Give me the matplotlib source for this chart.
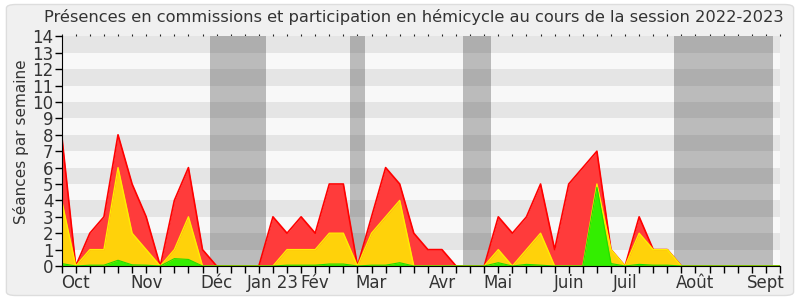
import matplotlib
matplotlib.use("Agg")
import matplotlib.pyplot as plt
from matplotlib.patches import FancyBboxPatch
import numpy as np

# Weekly values (week index 0..51)
total = [8, 0, 2, 3, 8, 5, 3, 0, 4, 6, 1, 0, 0, 0, 0, 3, 2, 3, 2, 5,
         5, 0, 3, 6, 5, 2, 1, 1, 0, 0, 0, 3, 2, 3, 5, 1, 5, 6, 7, 1,
         0, 3, 1, 1, 0, 0, 0, 0, 0, 0, 0, 0]
hemicycle = [4, 0, 1, 1, 6, 2, 1, 0, 1, 3, 0, 0, 0, 0, 0, 0, 1, 1, 1, 2,
             2, 0, 2, 3, 4, 0, 0, 0, 0, 0, 0, 1, 0, 1, 2, 0, 0, 0, 5, 1,
             0, 2, 1, 1, 0, 0, 0, 0, 0, 0, 0, 0]
commission = [0.15, 0, 0.05, 0.05, 0.35, 0.07, 0.05, 0, 0.45, 0.4, 0, 0, 0, 0, 0, 0, 0.05, 0.05, 0.05, 0.12,
              0.12, 0, 0.05, 0.05, 0.2, 0, 0, 0, 0, 0, 0, 0.2, 0, 0.1, 0.05, 0, 0, 0, 4.8, 0.15,
              0, 0.1, 0.05, 0.05, 0, 0, 0, 0, 0, 0, 0, 0]
vacations = [(10.5, 14.5), (20.5, 21.5), (28.5, 30.5), (43.5, 50.5)]
month_pos = [1, 6, 11, 15, 18, 22, 27, 31, 36, 40, 45, 50]
month_labels = ["Oct", "Nov", "Déc", "Jan 23", "Fév", "Mar", "Avr", "Mai", "Juin", "Juil", "Août", "Sept"]

plt.rcParams['font.family'] = ['DejaVu Sans']
fig = plt.figure(figsize=(8, 3), dpi=100)
fig.patch.set_facecolor('white')
bg = FancyBboxPatch((0.008, 0.015), 0.984, 0.97, boxstyle="round,pad=0,rounding_size=0.012",
                    transform=fig.transFigure, facecolor='#f0f0f0', edgecolor='#dddddd',
                    linewidth=1, zorder=-10)
fig.patches.append(bg)

ax = fig.add_axes([0.0771, 0.1133, 0.8979, 0.7654])
ax.set_facecolor('#f8f8f8')
ax.set_xlim(0, 51)
ax.set_ylim(0, 14)

# horizontal bands
for k in range(1, 14, 2):
    ax.axhspan(k, k + 1, color='#e5e5e5', lw=0, zorder=0)
# vacations
for a, b in vacations:
    ax.axvspan(a, b, color='#bbbbbb', lw=0, zorder=1)
    for k in range(1, 14, 2):
        ax.fill_between([a, b], k, k + 1, color='#aeaeae', lw=0, zorder=1.1)

x = np.arange(len(total))
ax.fill_between(x, 0, total, color='#ff3b3b', lw=0, zorder=2)
ax.plot(x, total, color='#ff0000', lw=1.2, zorder=2.1)
ax.fill_between(x, 0, hemicycle, color='#ffd20a', lw=0, zorder=3)
ax.plot(x, hemicycle, color='#ffee00', lw=1, zorder=3.1)
ax.fill_between(x, 0, commission, color='#33ee00', lw=0, zorder=4)
ax.plot(x, commission, color='#22dd00', lw=0.8, zorder=4.1)

ax.set_yticks(range(0, 15))
ax.set_xticks(month_pos)
ax.set_xticklabels(month_labels)
ax.set_xticks(range(0, 52), minor=True)
ax.tick_params(axis='x', which='both', length=5, width=1, color='black', direction='out',
               labelsize=12, labelcolor='#333333', pad=1)
ax.tick_params(axis='y', length=5, width=1, color='black', direction='out',
               labelsize=12, labelcolor='#333333', pad=1)

for s in ['top', 'right']:
    ax.spines[s].set_visible(False)
ax.spines['left'].set_color('black')
ax.spines['bottom'].set_color('black')
ax.spines['left'].set_zorder(10)
ax.spines['bottom'].set_zorder(10)

# top small tick dots
sec = ax.secondary_xaxis('top')
sec.set_xticks(range(0, 52))
sec.set_xticklabels([])
sec.tick_params(length=1.2, width=0.8, color='#222222', direction='out', pad=0)
sec.spines['top'].set_visible(False)

ax.set_ylabel("Séances par semaine", fontsize=11, color='#333333', labelpad=4)
ax.yaxis.set_label_coords(-0.046, 0.54)
fig.text(0.517, 0.943, "Présences en commissions et participation en hémicycle au cours de la session 2022-2023",
         ha='center', va='center', fontsize=11.7, color='#333333')

fig.savefig("out.png", dpi=100)
